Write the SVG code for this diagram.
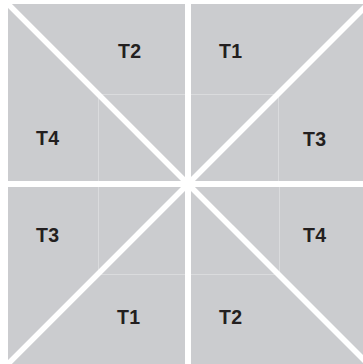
<svg xmlns="http://www.w3.org/2000/svg" width="363" height="364" viewBox="0 0 363 364">
  <style>
    .tile { fill: #cbcccf; }
    .faint { stroke: #dadbdd; stroke-width: 1; fill: none; }
    .cut { stroke: #ffffff; stroke-width: 6; fill: none; }
    .diag { stroke: #ffffff; stroke-width: 5.5; fill: none; }
    .lbl { font-family: "Liberation Sans", Arial, sans-serif; font-weight: bold; font-size: 19.5px; letter-spacing: 0.4px; fill: #231f20; }
  </style>
  <rect width="363" height="364" fill="#ffffff"/>
  <g id="tile-top-left">
    <rect class="tile" x="8" y="4" width="180" height="180"/>
    <path class="faint" d="M98.5 94.5 H188 M98.5 94.5 V184"/>
  </g>
  <g id="tile-top-right">
    <rect class="tile" x="188" y="4" width="180" height="180"/>
    <path class="faint" d="M188 94.5 H278.5 V184"/>
  </g>
  <g id="tile-bottom-left">
    <rect class="tile" x="8" y="184" width="180" height="180"/>
    <path class="faint" d="M98.5 184 V274.5 H188"/>
  </g>
  <g id="tile-bottom-right">
    <rect class="tile" x="188" y="184" width="180" height="180"/>
    <path class="faint" d="M188 274.5 H279.5 M279.5 184 V274.5"/>
  </g>
  <g id="cuts">
    <line class="cut" x1="188" y1="0" x2="188" y2="364"/>
    <line class="cut" x1="0" y1="184" x2="363" y2="184"/>
    <line class="diag" x1="8" y1="4" x2="368" y2="364"/>
    <line class="diag" x1="368" y1="4" x2="8" y2="364"/>
  </g>
  <g id="labels">
    <text class="lbl" x="118" y="58">T2</text>
    <text class="lbl" x="36" y="145">T4</text>
    <text class="lbl" x="219" y="58">T1</text>
    <text class="lbl" x="303" y="146">T3</text>
    <text class="lbl" x="36" y="242">T3</text>
    <text class="lbl" x="117" y="324">T1</text>
    <text class="lbl" x="303" y="242">T4</text>
    <text class="lbl" x="219" y="324">T2</text>
  </g>
</svg>
